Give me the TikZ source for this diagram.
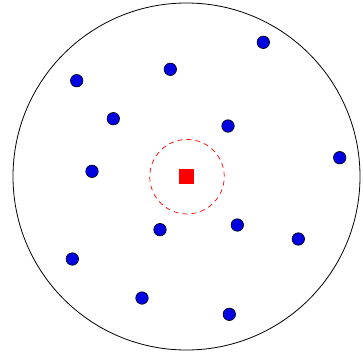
\documentclass[tikz,border=0pt]{standalone}
\begin{document}
\begin{tikzpicture}[x=1pt,y=-1pt,
  dot/.style={circle,draw=black,line width=0.6pt,fill=blue!88!black,minimum size=12.5pt,inner sep=0pt},
  sinkbox/.style={rectangle,fill=red,minimum size=15pt,inner sep=0pt},
  rangering/.style={circle,draw=red,dash pattern=on 5pt off 4pt,line width=0.7pt,minimum size=74.5pt,inner sep=0pt},
  fieldring/.style={circle,draw=black,line width=0.8pt,minimum size=347pt,inner sep=0pt}]
\useasboundingbox (0,0) rectangle (363,353);
\node[fieldring] (F) at (186.5,176.5) {};
\node[rangering] (R) at (187,176.7) {};
\node[sinkbox] (S) at (186.5,176.5) {};
\node[dot] (d1) at (263.3,42.3) {};
\node[dot] (d2) at (170.3,69.3) {};
\node[dot] (d3) at (76.7,80.7) {};
\node[dot] (d4) at (113.3,118.7) {};
\node[dot] (d5) at (228,126) {};
\node[dot] (d6) at (339.7,157.7) {};
\node[dot] (d7) at (92,171.3) {};
\node[dot] (d8) at (160,229.7) {};
\node[dot] (d9) at (237.3,225) {};
\node[dot] (d10) at (298.3,239) {};
\node[dot] (d11) at (72.3,259) {};
\node[dot] (d12) at (142,298) {};
\node[dot] (d13) at (229.3,314.3) {};
\end{tikzpicture}
\end{document}
